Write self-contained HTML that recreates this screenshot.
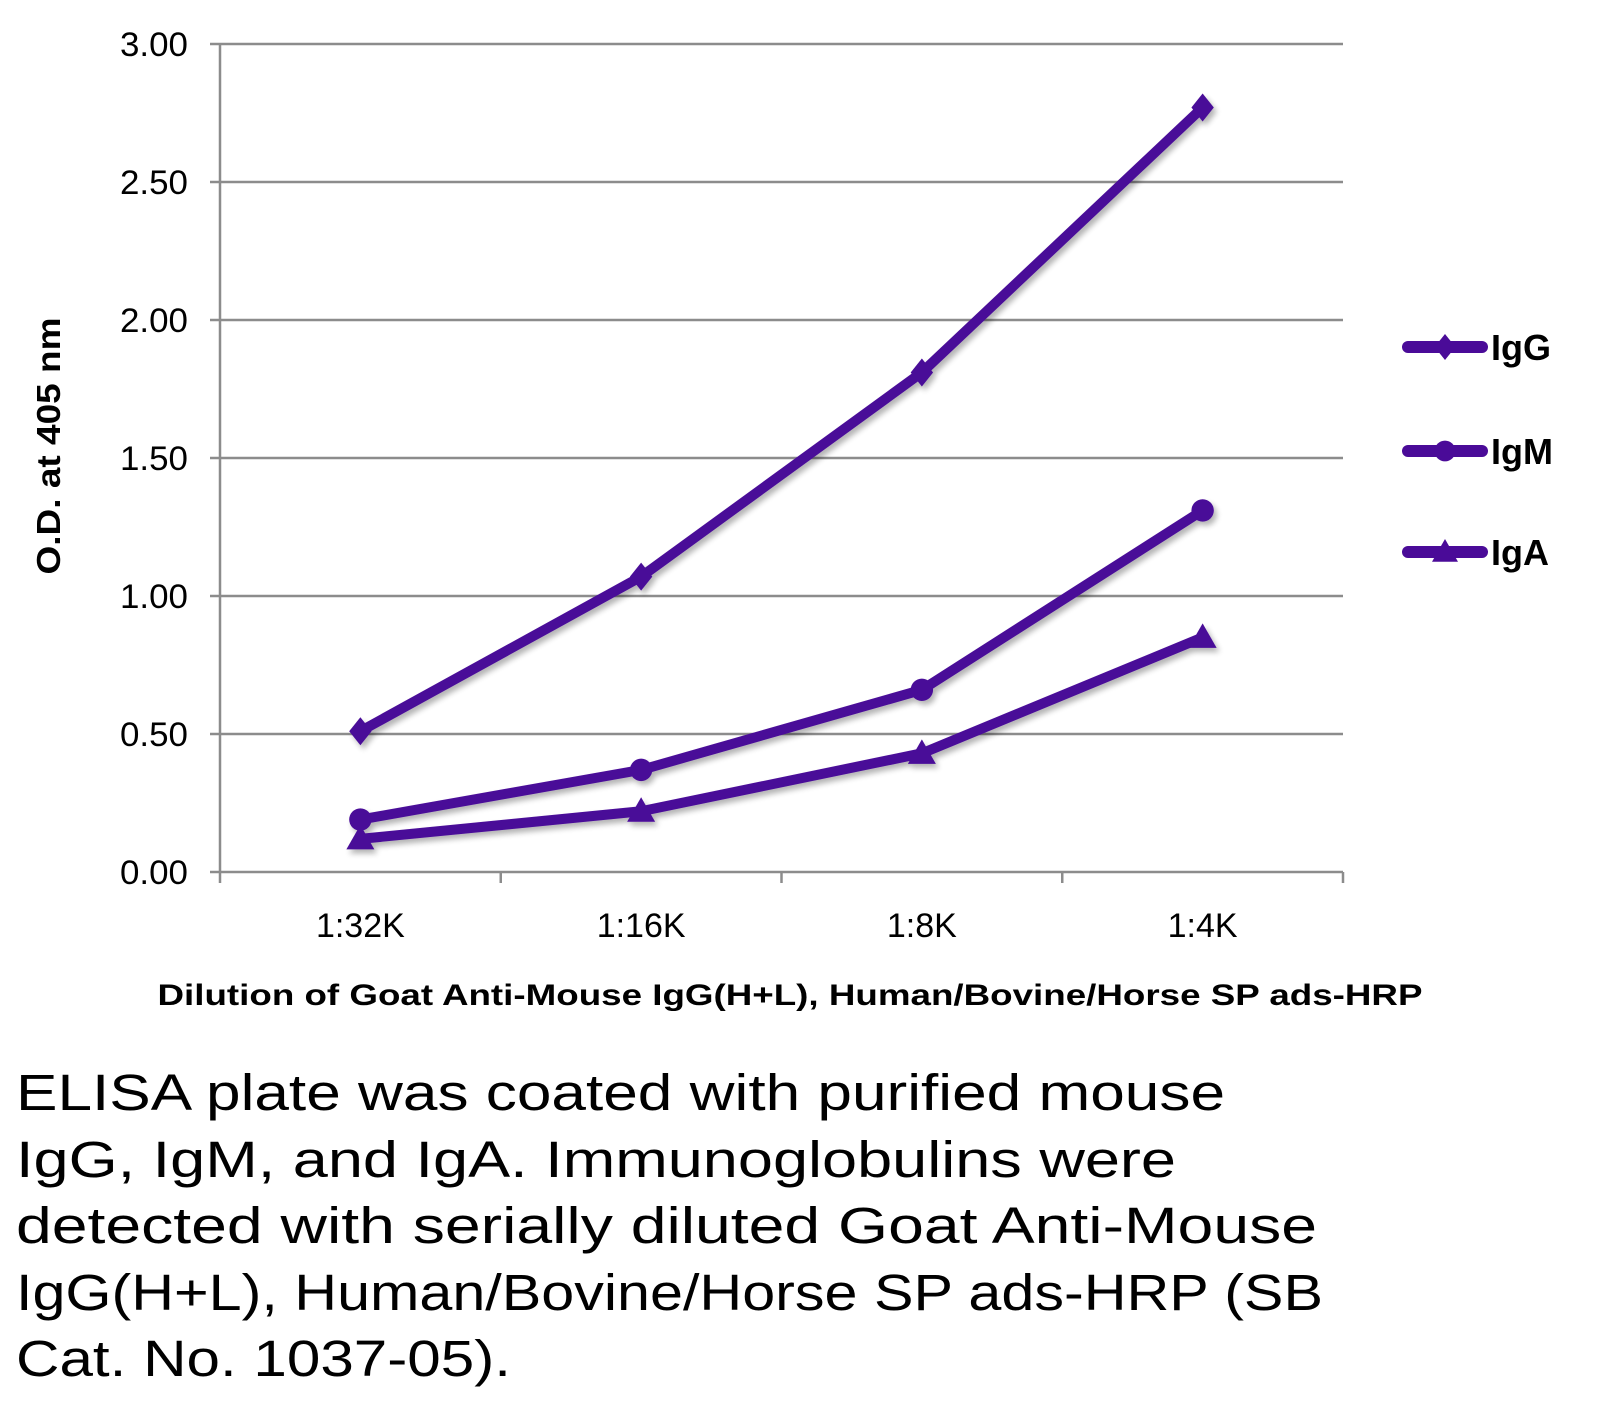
<!DOCTYPE html>
<html><head><meta charset="utf-8"><style>
html,body{margin:0;padding:0;background:#fff;}
svg{display:block;}
text{font-family:"Liberation Sans",sans-serif;}
</style></head><body>
<svg id="chart" width="1606" height="1407" viewBox="0 0 1606 1407">
<defs><filter id="sh" x="-10%" y="-10%" width="120%" height="120%"><feGaussianBlur in="SourceAlpha" stdDeviation="3"/><feOffset dx="3" dy="4"/><feComponentTransfer><feFuncA type="linear" slope="0.3"/></feComponentTransfer><feMerge><feMergeNode/><feMergeNode in="SourceGraphic"/></feMerge></filter></defs>
<g id="grid"></g>
<g id="series" filter="url(#sh)"></g>
<text x="0" y="0" transform="translate(60,446) rotate(-90)" text-anchor="middle" font-size="33" font-weight="bold" textLength="257" lengthAdjust="spacingAndGlyphs">O.D. at 405 nm</text>
<text x="790" y="1005" text-anchor="middle" font-size="30" font-weight="bold" textLength="1265" lengthAdjust="spacingAndGlyphs">Dilution of Goat Anti-Mouse IgG(H+L), Human/Bovine/Horse SP ads-HRP</text>
<g id="legend"></g>
<g font-size="51">
<text x="16" y="1110" textLength="1209" lengthAdjust="spacingAndGlyphs">ELISA plate was coated with purified mouse</text>
<text x="16" y="1177" textLength="1160" lengthAdjust="spacingAndGlyphs">IgG, IgM, and IgA.  Immunoglobulins were</text>
<text x="16" y="1243" textLength="1301" lengthAdjust="spacingAndGlyphs">detected with serially diluted Goat Anti-Mouse</text>
<text x="16" y="1310" textLength="1307" lengthAdjust="spacingAndGlyphs">IgG(H+L), Human/Bovine/Horse SP ads-HRP (SB</text>
<text x="16" y="1376" textLength="495" lengthAdjust="spacingAndGlyphs">Cat. No. 1037-05).</text>
</g>
</svg>
<script>
const categories = ["1:32K","1:16K","1:8K","1:4K"];
const seriesNames = ["IgG","IgM","IgA"];
const igG = [0.51,1.07,1.81,2.77];
const igM = [0.19,0.37,0.66,1.31];
const igA = [0.12,0.22,0.43,0.85];
const yTicks = [0,0.5,1,1.5,2,2.5,3];
const yTickLabels = ["0.00","0.50","1.00","1.50","2.00","2.50","3.00"];

const NS="http://www.w3.org/2000/svg";
const L=220,R=1343,T=44,B=872,COL="#4a0b98";
function y(v){return B-(v/3)*(B-T);}
function x(i){const w=(R-L)/categories.length;return L+w*(i+0.5);}
function mk(tag,attrs,parent){const e=document.createElementNS(NS,tag);for(const k in attrs)e.setAttribute(k,attrs[k]);parent.appendChild(e);return e;}
const grid=document.getElementById('grid');
yTicks.forEach((t,i)=>{
  const ln=mk('line',{x1:L,x2:R,y1:y(t),y2:y(t),stroke:'#8c8c8c','stroke-width':2.5},grid);
  
  
  const tk=mk('line',{x1:L-10,x2:L,y1:y(t),y2:y(t),stroke:'#8c8c8c','stroke-width':2.5},grid);
  
  
  const tx=mk('text',{x:188,y:y(t)+12,'text-anchor':'end','font-size':34,textLength:68,lengthAdjust:'spacingAndGlyphs'},grid);
  tx.textContent=yTickLabels[i];
  
  
});
const ax=mk('line',{x1:L,x2:L,y1:T,y2:B,stroke:'#8c8c8c','stroke-width':2.5},grid);


const w=(R-L)/categories.length;
for(let i=0;i<=categories.length;i++){
  const tk=mk('line',{x1:L+w*i,x2:L+w*i,y1:B,y2:B+11,stroke:'#8c8c8c','stroke-width':2.5},grid);
  
  
}
categories.forEach((c,i)=>{
  const tx=mk('text',{x:x(i),y:937,'text-anchor':'middle','font-size':34},grid);
  tx.textContent=c;
  
  
});
function marker(shape,cx,cy,s,parent){
  if(shape==='d')return mk('polygon',{points:`${cx},${cy-s} ${cx+s*0.8},${cy} ${cx},${cy+s} ${cx-s*0.8},${cy}`,fill:COL},parent);
  if(shape==='c')return mk('circle',{cx:cx,cy:cy,r:s*0.8,fill:COL},parent);
  return mk('polygon',{points:`${cx},${cy-s} ${cx+s},${cy+s*0.75} ${cx-s},${cy+s*0.75}`,fill:COL},parent);
}
const sg=document.getElementById('series');
const all=[igG,igM,igA],shapes=['d','c','t'];
all.forEach((vals,si)=>{
  const pl=mk('polyline',{points:vals.map((v,i)=>x(i)+','+y(v)).join(' '),fill:'none',stroke:COL,'stroke-width':10,'stroke-linejoin':'round','stroke-linecap':'round'},sg);
  
  
  vals.forEach((v,i)=>{
    const m=marker(shapes[si],x(i),y(v),14,sg);
    
    
  });
});
const lg=document.getElementById('legend');
const ly=[347,451,552];
seriesNames.forEach((n,i)=>{
  const ln=mk('line',{x1:1408,x2:1482,y1:ly[i],y2:ly[i],stroke:COL,'stroke-width':12,'stroke-linecap':'round'},lg);
  
  
  const m=marker(shapes[i],1445,ly[i],13,lg);
  
  
  const t=mk('text',{x:1491,y:ly[i]+13,'font-size':36,'font-weight':'bold'},lg);
  t.textContent=n;
  
  
});
</script>
</body></html>
